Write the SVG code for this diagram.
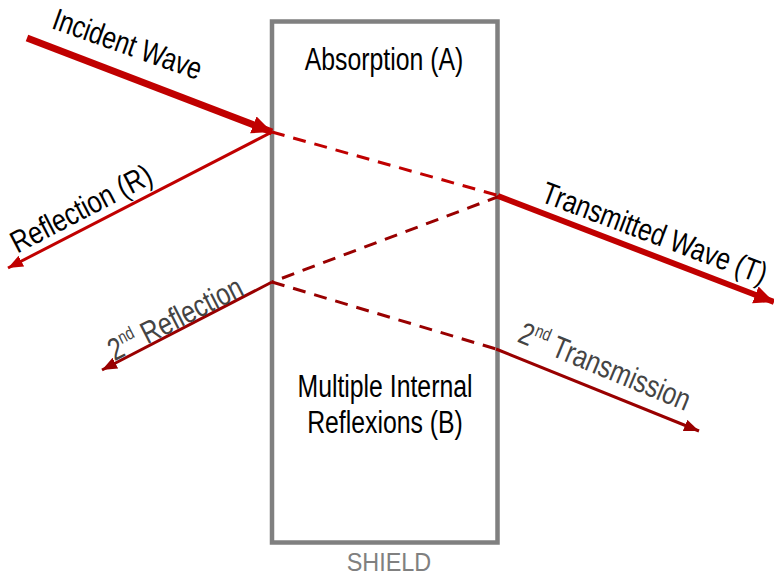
<svg xmlns="http://www.w3.org/2000/svg" width="774" height="577" viewBox="0 0 774 577">
<style>
.lbl{font-family:"Liberation Sans",Arial,sans-serif;font-size:31px;text-anchor:middle}
.blk{fill:#000}
.gry{fill:#444}
.red{stroke:#c00000;fill:none}
.dark{stroke:#990000;fill:none}
.dash{stroke-dasharray:13 9;stroke-width:3}
</style>
<defs>
<marker id="ahBig" markerUnits="userSpaceOnUse" markerWidth="24" markerHeight="20" refX="20" refY="9" orient="auto"><path d="M0,0 L20,9 L0,18 Z" fill="#c00000"/></marker>
<marker id="ahRed" markerUnits="userSpaceOnUse" markerWidth="18" markerHeight="14" refX="15" refY="6" orient="auto"><path d="M0,0 L15,6 L0,12 Z" fill="#c00000"/></marker>
<marker id="ahDark" markerUnits="userSpaceOnUse" markerWidth="18" markerHeight="14" refX="15" refY="6" orient="auto"><path d="M0,0 L15,6 L0,12 Z" fill="#990000"/></marker>
</defs>
<g id="shield">
<rect x="272" y="21.5" width="225.5" height="521" fill="#fff" stroke="#808080" stroke-width="4.5"/>
<text class="lbl blk" x="384" y="70" transform="translate(384 0) scale(0.8 1) translate(-384 0)">Absorption (A)</text>
<text class="lbl blk" x="385" y="397" transform="translate(385 0) scale(0.8 1) translate(-385 0)">Multiple Internal</text>
<text class="lbl blk" x="385" y="433" transform="translate(385 0) scale(0.8 1) translate(-385 0)">Reflexions (B)</text>
<text class="lbl" x="389" y="571" font-size="26" style="font-size:26px" fill="#808080" transform="translate(389 0) scale(0.9 1) translate(-389 0)">SHIELD</text>
</g>
<g id="connectors">
<line class="red dash" x1="272" y1="132" x2="500" y2="196"/>
<line class="dark dash" x1="500" y1="196" x2="272" y2="282"/>
<line class="dark dash" x1="272" y1="282" x2="496" y2="349"/>
<line class="red" x1="27" y1="38" x2="272" y2="132" stroke-width="7" marker-end="url(#ahBig)"/>
<line class="red" x1="272" y1="132" x2="8" y2="268" stroke-width="3" marker-end="url(#ahRed)"/>
<line class="red" x1="498" y1="196" x2="774" y2="302" stroke-width="6" marker-end="url(#ahBig)"/>
<line class="dark" x1="272" y1="282" x2="102" y2="370" stroke-width="3" marker-end="url(#ahDark)"/>
<line class="dark" x1="496" y1="349" x2="699" y2="431" stroke-width="3" marker-end="url(#ahDark)"/>
</g>
<g id="label-incident" transform="translate(124 54) rotate(19.5) scale(0.8 1)">
<text class="lbl blk" x="0" y="0">Incident Wave</text>
</g>
<g id="label-reflection" transform="translate(86 218) rotate(-27.5) scale(0.82 1)">
<text class="lbl blk" x="0" y="0">Reflection (R)</text>
</g>
<g id="label-transmitted" transform="translate(651 243) rotate(20.5) scale(0.8 1)">
<text class="lbl blk" x="0" y="0">Transmitted Wave (T)</text>
</g>
<g id="label-2nd-reflection" transform="translate(175 318) rotate(-27) scale(0.8 1)">
<text class="lbl gry" x="0" y="11">2<tspan font-size="18" dy="-12">nd</tspan><tspan dy="12"> Reflection</tspan></text>
</g>
<g id="label-2nd-transmission" transform="translate(605 366) rotate(22.5) scale(0.8 1)">
<text class="lbl gry" x="0" y="11">2<tspan font-size="18" dy="-12">nd</tspan><tspan dy="12"> Transmission</tspan></text>
</g>
</svg>
